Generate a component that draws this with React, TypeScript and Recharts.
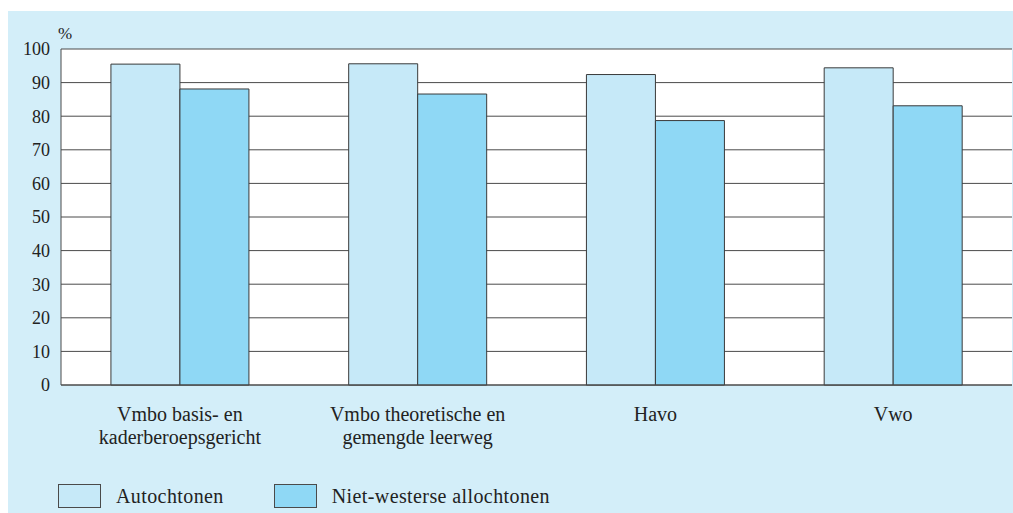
import React from "react";
import { BarChart, Bar, XAxis, YAxis, CartesianGrid, Legend } from "recharts";

const CATEGORIES = [
  "Vmbo basis- en\nkaderberoepsgericht",
  "Vmbo theoretische en\ngemengde leerweg",
  "Havo",
  "Vwo",
];
const AUTOCHTONEN = [95.5, 95.6, 92.4, 94.4];
const NIET_WESTERS = [88.1, 86.6, 78.7, 83.1];
const Y_TICKS = [0, 10, 20, 30, 40, 50, 60, 70, 80, 90, 100];

const SERIES = [
  { key: "autochtonen", name: "Autochtonen", color: "#c6e9f8" },
  { key: "nietWesters", name: "Niet-westerse allochtonen", color: "#8fd8f5" },
];

const data = CATEGORIES.map((cat, i) => ({
  cat,
  autochtonen: AUTOCHTONEN[i],
  nietWesters: NIET_WESTERS[i],
}));

const FONT = '"Liberation Serif", "DejaVu Serif", serif';
const TEXT = "#222";
const LINE = "#4a4a4a";

if (typeof document !== "undefined") {
  document.documentElement.style.overflow = "hidden";
  document.body.style.margin = "0";
  document.body.style.overflow = "hidden";
}

function CategoryTick(props: any) {
  const { x, y, payload } = props;
  const lines = String(payload.value).split("\n");
  return (
    <g transform={`translate(${x},${y})`}>
      {lines.map((line, i) => (
        <text
          key={i}
          x={0}
          y={28 + i * 23}
          textAnchor="middle"
          fill={TEXT}
          fontSize={20}
          fontFamily={FONT}
        >
          {line}
        </text>
      ))}
    </g>
  );
}

function LegendContent() {
  return (
    <div
      style={{
        display: "flex",
        alignItems: "center",
        height: 30,
        fontFamily: FONT,
        fontSize: 20,
        letterSpacing: 0.4,
        color: TEXT,
        whiteSpace: "nowrap",
      }}
    >
      {SERIES.map((s, i) => (
        <div key={s.key} style={{ display: "flex", alignItems: "center", marginRight: i === 0 ? 50 : 0 }}>
          <span
            style={{
              display: "inline-block",
              width: 41,
              height: 22,
              background: s.color,
              border: `1px solid ${LINE}`,
              marginRight: 15,
            }}
          />
          <span>{s.name}</span>
        </div>
      ))}
    </div>
  );
}

export default function App() {
  return (
    <div
      style={{
        position: "fixed",
        left: 8,
        top: 11,
        width: 1005,
        height: 502,
        background: "#d3eef9",
      }}
    >
      <BarChart
        width={1005}
        height={502}
        data={data}
        margin={{ top: 38, right: 1, left: 0, bottom: 38 }}
        barCategoryGap="21%"
        barGap={0}
      >
        <CartesianGrid vertical={false} stroke={LINE} fill="#ffffff" />
        <XAxis
          dataKey="cat"
          tick={<CategoryTick />}
          tickLine={false}
          axisLine={{ stroke: LINE }}
          interval={0}
          height={60}
        />
        <YAxis
          domain={[0, 100]}
          ticks={Y_TICKS}
          width={53}
          tickLine={false}
          axisLine={{ stroke: LINE }}
          tick={{ fill: TEXT, fontSize: 18, fontFamily: FONT, dx: -3 }}
          label={{
            content: (p: any) => (
              <text
                x={p.viewBox.x + p.viewBox.width + 4}
                y={p.viewBox.y - 10}
                textAnchor="middle"
                fill={TEXT}
                fontSize={17}
                fontFamily={FONT}
              >
                %
              </text>
            ),
          }}
        />
        <YAxis
          yAxisId="frame"
          orientation="right"
          width={0}
          domain={[0, 100]}
          tick={false}
          tickLine={false}
          axisLine={{ stroke: LINE }}
        />
        <Legend
          verticalAlign="bottom"
          content={<LegendContent />}
          wrapperStyle={{ left: 50, top: 470, width: "auto" }}
        />
        {SERIES.map((s) => (
          <Bar
            key={s.key}
            dataKey={s.key}
            name={s.name}
            fill={s.color}
            stroke="#3a3a3a"
            strokeWidth={1}
            isAnimationActive={false}
          />
        ))}
      </BarChart>
    </div>
  );
}
